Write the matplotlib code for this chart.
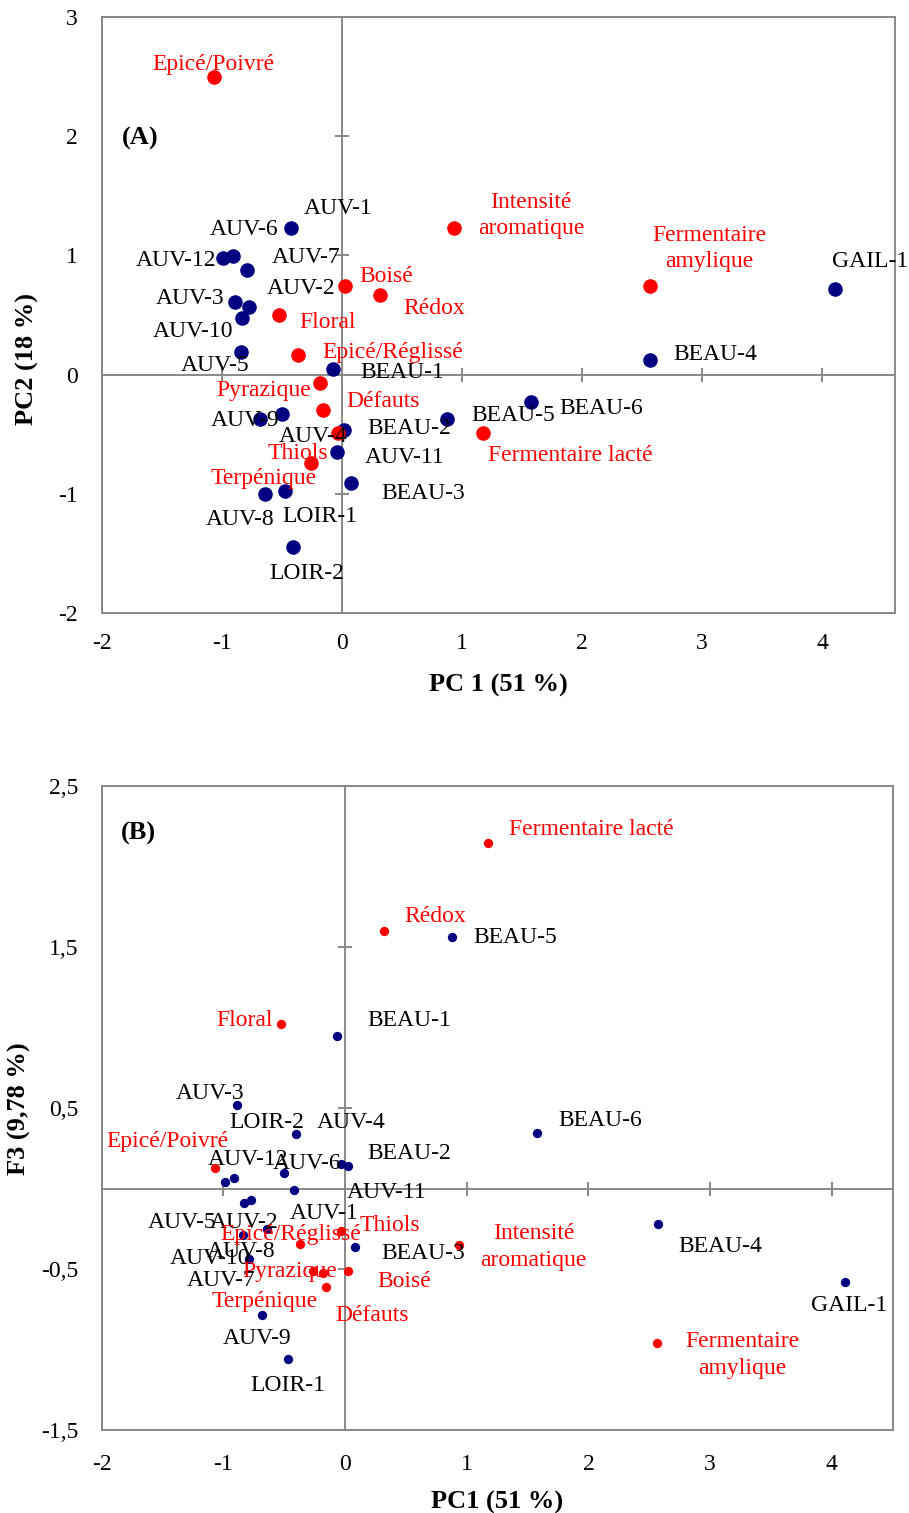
import matplotlib
matplotlib.use("Agg")
import matplotlib.pyplot as plt

plt.rcParams['font.family'] = ['Liberation Serif', 'DejaVu Serif']

# sample scores
samples = ['AUV-1', 'AUV-2', 'AUV-3', 'AUV-4', 'AUV-5', 'AUV-6', 'AUV-7', 'AUV-8',
           'AUV-9', 'AUV-10', 'AUV-11', 'AUV-12', 'BEAU-1', 'BEAU-2', 'BEAU-3',
           'BEAU-4', 'BEAU-5', 'BEAU-6', 'GAIL-1', 'LOIR-1', 'LOIR-2']
s_pc1 = [-0.42, -0.775, -0.89, -0.50, -0.836, -0.91, -0.79, -0.64, -0.68, -0.83, -0.036,
         -0.99, -0.07, 0.02, 0.08, 2.57, 0.88, 1.58, 4.11, -0.473, -0.405]
s_pc2 = [1.227, 0.566, 0.613, -0.33, 0.19, 0.994, 0.876, -1.0, -0.37, 0.476, -0.645,
         0.975, 0.05, -0.46, -0.91, 0.126, -0.37, -0.227, 0.72, -0.98, -1.443]
s_f3 = [-0.005, -0.071, 0.519, 0.101, -0.289, 0.070, -0.434, -0.247, -0.786, -0.086, 0.152,
        0.042, 0.947, 0.140, -0.360, -0.220, 1.562, 0.345, -0.581, -1.055, 0.337]

# sensory attributes
attrs = ['Epicé/Poivré', 'Intensité\naromatique', 'Fermentaire\namylique', 'Boisé', 'Rédox',
         'Floral', 'Epicé/Réglissé', 'Pyrazique', 'Défauts', 'Thiols', 'Terpénique',
         'Fermentaire lacté']
a_pc1 = [-1.067, 0.933, 2.567, 0.025, 0.317, -0.525, -0.367, -0.183, -0.158, -0.033, -0.26, 1.178]
a_pc2 = [2.496, 1.227, 0.748, 0.74, 0.672, 0.504, 0.168, -0.067, -0.30, -0.49, -0.742, -0.49]
a_f3 = [0.129, -0.35, -0.957, -0.509, 1.602, 1.025, -0.343, -0.524, -0.609, -0.261, -0.509, 2.149]

# label offsets in pixels (dx, dy up)
off_a = {'AUV-1': (47, 23), 'AUV-2': (52, 22), 'AUV-3': (-45, 6), 'AUV-4': (31, -19),
         'AUV-5': (-26, -10), 'AUV-6': (12, 30), 'AUV-7': (59, 16), 'AUV-8': (-25, -23),
         'AUV-9': (-15, 1), 'AUV-10': (-49, -11), 'AUV-11': (67, -3), 'AUV-12': (-47, 1),
         'BEAU-1': (69, -1), 'BEAU-2': (65, 4), 'BEAU-3': (72, -7), 'BEAU-4': (65, 8),
         'BEAU-5': (66, 6), 'BEAU-6': (70, -4), 'GAIL-1': (35, 30), 'LOIR-1': (35, -22),
         'LOIR-2': (14, -24),
         'Epicé/Poivré': (0, 16), 'Intensité\naromatique': (77, 16),
         'Fermentaire\namylique': (59, 40), 'Boisé': (41, 13), 'Rédox': (54, -11),
         'Floral': (49, -5), 'Epicé/Réglissé': (95, 5), 'Pyrazique': (-56, -5),
         'Défauts': (60, 12), 'Thiols': (-40, -17), 'Terpénique': (-47, -12),
         'Fermentaire lacté': (87, -19)}
off_b = {'AUV-1': (30, -21), 'AUV-2': (-7, -19), 'AUV-3': (-27, 15), 'AUV-4': (67, 53),
         'AUV-5': (-61, 16), 'AUV-6': (73, 17), 'AUV-7': (-28, -19), 'AUV-8': (-26, -20),
         'AUV-9': (-5, -20), 'AUV-10': (-34, -53), 'AUV-11': (46, -25), 'AUV-12': (23, 26),
         'BEAU-1': (73, 19), 'BEAU-2': (62, 16), 'BEAU-3': (68, -4), 'BEAU-4': (63, -19),
         'BEAU-5': (63, 3), 'BEAU-6': (63, 16), 'GAIL-1': (4, -20), 'LOIR-1': (0, -24),
         'LOIR-2': (-29, 15),
         'Epicé/Poivré': (-48, 30), 'Intensité\naromatique': (75, 1),
         'Fermentaire\namylique': (85, -9), 'Boisé': (56, -8), 'Rédox': (52, 17),
         'Floral': (-37, 6), 'Epicé/Réglissé': (-10, 13), 'Pyrazique': (-33, 5),
         'Défauts': (46, -26), 'Thiols': (49, 8), 'Terpénique': (-49, -28),
         'Fermentaire lacté': (103, 16)}

xticks = [-2, -1, 0, 1, 2, 3, 4]
yticks_a = [-2, -1, 0, 1, 2, 3]
yticks_b = [-1.5, -0.5, 0.5, 1.5, 2.5]

navy = '#000080'
red = '#ff0000'
grey = '#888888'
fs = 17
shift = -3  # glyph centring correction, pixels

fig = plt.figure(figsize=(9.09, 15.13), dpi=100)
ax1 = fig.add_axes([0.1119, 0.5948, 0.8727, 0.3939])
ax2 = fig.add_axes([0.1119, 0.05453, 0.8705, 0.4260])


def draw(ax, sy, ay, offs, yticks, ms, xlim, ylim, ylabels):
    ax.set_xlim(*xlim)
    ax.set_ylim(*ylim)
    ax.axhline(0, color=grey, lw=1.4, zorder=1)
    ax.axvline(0, color=grey, lw=1.4, zorder=1)
    # cross tick marks on the zero lines
    ax.plot(xticks, [0] * len(xticks), ls='none', marker='|', ms=10.5, mew=1.4,
            color=grey, zorder=1, clip_on=False)
    ax.plot([0] * len(yticks), yticks, ls='none', marker='_', ms=10.5, mew=1.4,
            color=grey, zorder=1, clip_on=False)
    ax.scatter(s_pc1, sy, s=ms, color=navy, zorder=3, linewidths=0)
    ax.scatter(a_pc1, ay, s=ms, color=red, zorder=3, linewidths=0)
    for n, x, y in zip(samples, s_pc1, sy):
        dx, dy = offs[n]
        ax.annotate(n, (x, y), xytext=(dx, dy + shift), textcoords='offset pixels',
                    ha='center', va='center', fontsize=fs, color='black', zorder=4)
    for n, x, y in zip(attrs, a_pc1, ay):
        dx, dy = offs[n]
        ax.annotate(n, (x, y), xytext=(dx, dy + shift), textcoords='offset pixels',
                    ha='center', va='center', fontsize=fs, color=red, zorder=4,
                    multialignment='center', linespacing=1.35)
    ax.set_xticks(xticks)
    ax.set_xticklabels([str(t) for t in xticks], fontsize=fs)
    ax.set_yticks(yticks)
    ax.set_yticklabels(ylabels, fontsize=fs)
    ax.tick_params(length=0)
    for sp in ax.spines.values():
        sp.set_color(grey)
        sp.set_linewidth(1.4)


draw(ax1, s_pc2, a_pc2, off_a, yticks_a, 110, (-2, 4.608), (-2, 3),
     [str(t) for t in yticks_a])
ax1.tick_params(axis='x', pad=14)
ax1.tick_params(axis='y', pad=17)
ax1.text(0.048, 0.797, '(A)', transform=ax1.transAxes, fontsize=19, fontweight='bold',
         ha='center', va='center')
ax1.text(0.4996, -0.1214, 'PC 1 (51 %)', transform=ax1.transAxes, fontsize=19,
         fontweight='bold', ha='center', va='center')
ax1.text(-0.094, 0.426, 'PC2 (18 %)', transform=ax1.transAxes, fontsize=19,
         fontweight='bold', ha='center', va='center', rotation=90)

draw(ax2, s_f3, a_f3, off_b, yticks_b, 45, (-2, 4.503), (-1.5, 2.5),
     [str(t).replace('.', ',') for t in yticks_b])
ax2.tick_params(axis='x', pad=17)
ax2.tick_params(axis='y', pad=17)
ax2.text(0.046, 0.926, '(B)', transform=ax2.transAxes, fontsize=19, fontweight='bold',
         ha='center', va='center')
ax2.text(0.4995, -0.112, 'PC1 (51 %)', transform=ax2.transAxes, fontsize=19,
         fontweight='bold', ha='center', va='center')
ax2.text(-0.104, 0.50, 'F3 (9,78 %)', transform=ax2.transAxes, fontsize=19,
         fontweight='bold', ha='center', va='center', rotation=90)

fig.savefig('out.png', dpi=100)
